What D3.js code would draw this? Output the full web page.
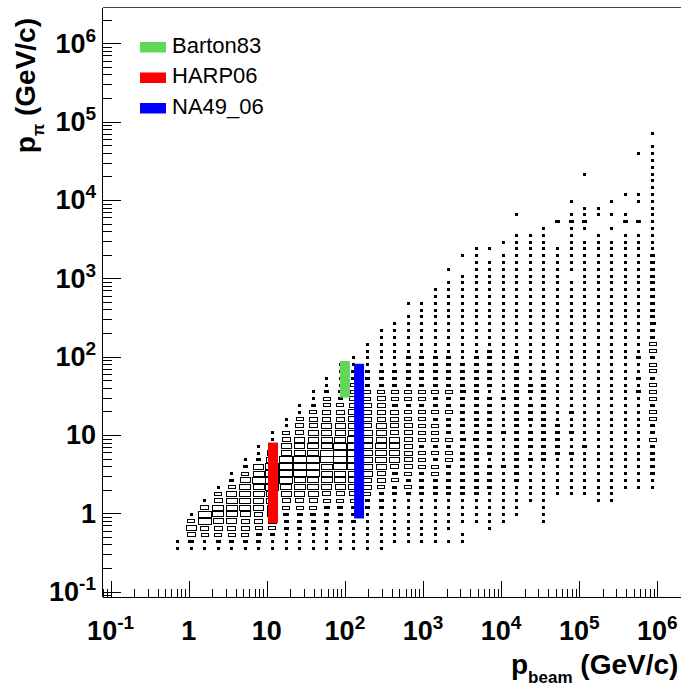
<!DOCTYPE html>
<html><head><meta charset="utf-8">
<script src="https://cdn.jsdelivr.net/npm/d3@7"></script>
<style>
html,body{margin:0;padding:0;background:#fff;overflow:hidden;}
svg{display:block;font-family:"Liberation Sans",Arial,Helvetica,sans-serif;}
</style></head><body>
<svg id="chart" width="681" height="688"></svg>
<script>
// ---- histogram binning: log10(p / GeV/c), 42 x 84 bins ----
const xBinLog = [-1.1, 6.2];
const xBinCount = 42;
const yBinLog = [-1.1, 6.2];
const yBinCount = 84;
const zMax = 9;                 // largest cell content (box fills the whole cell)

// first filled x bin; each entry below is one x bin (column)
const firstColumnBin = 5;
// y bin of the first character of each column string
const columnStartBin = [7,7,7,7,7,7,7,7,7,7,7,7,7,7,7,7,
                        8,8,8,8,8,8,11,10,11,12,14,11,15,15,15,14,14,16,16,16];
// cell contents per column, bottom to top (0 = empty)
const columnCells = [
  "11",
  "135641",
  "11458851",
  "1245677541",
  "124567776421",
  "12455677776421",
  "1234556677876211",
  "112456677888876411",
  "11122345678888665411",
  "1112234567788876655411",
  "111223456778887766554211",
  "11112234567778877665544211",
  "1111223456778888766554221111",
  "11112234567788888776655442211",
  "1111112245566666665555442221111",
  "111111222455677766655554222111111",
  "111111122435666655553442221111111",
  "111111124245555555442442222211111101",
  "111111122224442444442442222211111111",
  "11111112224424244424224222221111111111",
  "10111112222244242224224222221111111111101",
  "1101111222222223222222322221111111111111001",
  "1111" + "22222222" + "3" + "222222222222" + "1111111111111111",
  "111111" + "222212222222221222222" + "1111111111111" + "0" + "1",
  "11111" + "1112111121111211111" + "1111111111111111" + "0" + "1",
  "11111" + "2222222222222222222" + "111111111111111111" + "00" + "1",
  "111111" + "212221222122" + "1111111111111111111111",
  "111111111" + "22222222222222" + "111111111111111111111",
  "111111" + "22222" + "11111111111111111111111111" + "000" + "2",
  "11111121121121111111111111111111" + "0" + "1111111" + "2" + "1" + "0" + "1",
  "11111112111111111111111111111111111111" + "0" + "1" + "2" + "1" + "1" + "0000" + "1",
  "1111111111111111111111111111111111111111" + "00" + "11",
  "111111111111111111111111111111111111111" + "0" + "1" + "0" + "1" + "0" + "1",
  "11111111111111111111111111111111111111" + "0" + "2" + "1" + "0" + "0" + "1",
  "11111111111111" + "2" + "1" + "2" + "11" + "2" + "111111111111111111" + "0" + "2" + "00" + "1" + "1" + "00000" + "1",
  "11" + "22222" + "4" + "22" + "44" + "2" + "444" + "2" + "44" + "2" + "44" + "22" + "3" + "2222222222" + "111111111111111" + "1" + "0" + "1"
];

// ---- measured regions of the three experiments ----
const experiments = ["Barton83", "HARP06", "NA49_06"];
const experimentColors = ["#62d85a", "#ff0000", "#0000ff"];
const beamMomentum = [100, 12, 152];
const pionMin = [30, 0.75, 0.86];
const pionMax = [88, 8, 81];

// ---- axis ticks ----
const decadeTicks = [0.1, 1, 10, 100, 1e3, 1e4, 1e5, 1e6];
const decadeLabels = [["10", "-1"], ["1", ""], ["10", ""], ["10", "2"], ["10", "3"], ["10", "4"], ["10", "5"], ["10", "6"]];

const svg = d3.select("#chart");
const frame = {left: 102.5, top: 7.5, bottom: 597.3};

const x = d3.scaleLog().domain([Math.pow(10, -1.1037), Math.pow(10, 6.5)])
  .range([frame.left, 188.7 + 6.5 * 78.1]);
const y = d3.scaleLog().domain([Math.pow(10, -1.072), Math.pow(10, 6.457)])
  .range([frame.bottom, frame.top]);

const xEdge = i => Math.pow(10, xBinLog[0] + i * (xBinLog[1] - xBinLog[0]) / xBinCount);
const yEdge = i => Math.pow(10, yBinLog[0] + i * (yBinLog[1] - yBinLog[0]) / yBinCount);

// flatten the columns into cells
const cells = [];
columnCells.forEach((col, k) => {
  const xb = firstColumnBin + k;
  for (let r = 0; r < col.length; r++) {
    const z = +col[r];
    if (!z) continue;
    cells.push({xb, yb: columnStartBin[k] + r, z});
  }
});

// ---- box plot ----
const gBoxes = svg.append("g").attr("shape-rendering", "crispEdges");
cells.forEach(c => {
  const x0 = x(xEdge(c.xb)), x1 = x(xEdge(c.xb + 1));
  const y0 = y(yEdge(c.yb)), y1 = y(yEdge(c.yb + 1));
  const cx = (x0 + x1) / 2, cy = (y0 + y1) / 2;
  const w = (x1 - x0) * c.z / zMax, h = (y0 - y1) * c.z / zMax;
  const ow = Math.max(3, Math.round(w + 1.5)), oh = Math.max(3, Math.round(h + 1));
  const left = Math.round(cx - ow / 2), top = Math.round(cy - oh / 2);
  if (oh <= 3) {
    gBoxes.append("rect").attr("x", left).attr("y", top)
      .attr("width", ow).attr("height", oh).attr("fill", "#000");
  } else {
    gBoxes.append("rect").attr("x", left + 0.5).attr("y", top + 0.5)
      .attr("width", ow - 1).attr("height", oh - 1)
      .attr("fill", "none").attr("stroke", "#000").attr("stroke-width", 1);
  }
});

// ---- experiment bands ----
const gExp = svg.append("g");
experiments.forEach((e, i) => {
  const cx = x(beamMomentum[i]);
  gExp.append("rect")
    .attr("x", cx - 5).attr("width", 10)
    .attr("y", y(pionMax[i])).attr("height", y(pionMin[i]) - y(pionMax[i]))
    .attr("fill", experimentColors[i]);
});

// ---- frame and axes ----
const gAxes = svg.append("g").attr("stroke", "#000").attr("shape-rendering", "crispEdges");
gAxes.append("line").attr("x1", frame.left).attr("x2", 681).attr("y1", frame.bottom).attr("y2", frame.bottom).attr("stroke-width", 1.6);
gAxes.append("line").attr("x1", frame.left).attr("x2", frame.left).attr("y1", frame.top).attr("y2", frame.bottom).attr("stroke-width", 1.6);
gAxes.append("line").attr("x1", frame.left).attr("x2", 681).attr("y1", frame.top).attr("y2", frame.top).attr("stroke", "#444").attr("stroke-width", 1.6);

function logTicks(scale) {
  const [a, b] = scale.domain();
  const out = [];
  for (let e = -2; e <= 7; e++) {
    for (let m = 1; m <= 9; m++) {
      const v = m * Math.pow(10, e);
      if (v >= a && v <= b) out.push({v, major: m === 1});
    }
  }
  return out;
}
logTicks(x).forEach(t => {
  const px = Math.round(x(t.v)) + 0.5;
  gAxes.append("line").attr("x1", px).attr("x2", px)
    .attr("y1", frame.bottom).attr("y2", frame.bottom - (t.major ? 16 : 8));
});
logTicks(y).forEach(t => {
  const py = Math.round(y(t.v)) + 0.5;
  gAxes.append("line").attr("y1", py).attr("y2", py)
    .attr("x1", frame.left).attr("x2", frame.left + (t.major ? 18 : 9));
});

// tick labels
const gLab = svg.append("g").attr("font-weight", "bold").attr("fill", "#000");
decadeTicks.forEach((v, i) => {
  const [base, exp] = decadeLabels[i];
  const tx = gLab.append("text").attr("x", x(v)).attr("y", 640).attr("text-anchor", "middle")
    .attr("font-size", 27);
  tx.append("tspan").text(base);
  if (exp) tx.append("tspan").attr("dy", -11).attr("font-size", 19).text(exp);

  const ty = gLab.append("text").attr("x", 96).attr("y", y(v) + 9.5).attr("text-anchor", "end")
    .attr("font-size", 27);
  ty.append("tspan").text(base);
  if (exp) ty.append("tspan").attr("dy", -11).attr("font-size", 19).text(exp);
});

// axis titles
const xt = gLab.append("text").attr("x", 511).attr("y", 674).attr("font-size", 28);
xt.append("tspan").text("p");
xt.append("tspan").attr("dy", 9).attr("font-size", 17).text("beam");
xt.append("tspan").attr("dy", -9).text(" (GeV/c)");

const yt = gLab.append("text").attr("transform", "translate(35,18) rotate(-90)")
  .attr("text-anchor", "end").attr("font-size", 28);
yt.append("tspan").text("p");
yt.append("tspan").attr("dy", 9).attr("font-size", 16).text("π");
yt.append("tspan").attr("dy", -9).text(" (GeV/c)");

// ---- legend ----
const gLeg = svg.append("g");
experiments.forEach((e, i) => {
  const ly = 42 + i * 30.5;
  gLeg.append("rect").attr("x", 140).attr("y", ly).attr("width", 26).attr("height", 10.5)
    .attr("fill", experimentColors[i]);
  gLeg.append("text").attr("x", 172).attr("y", ly + 10.5).attr("font-size", 22)
    .attr("fill", "#000").text(e);
});
</script>
</body></html>
